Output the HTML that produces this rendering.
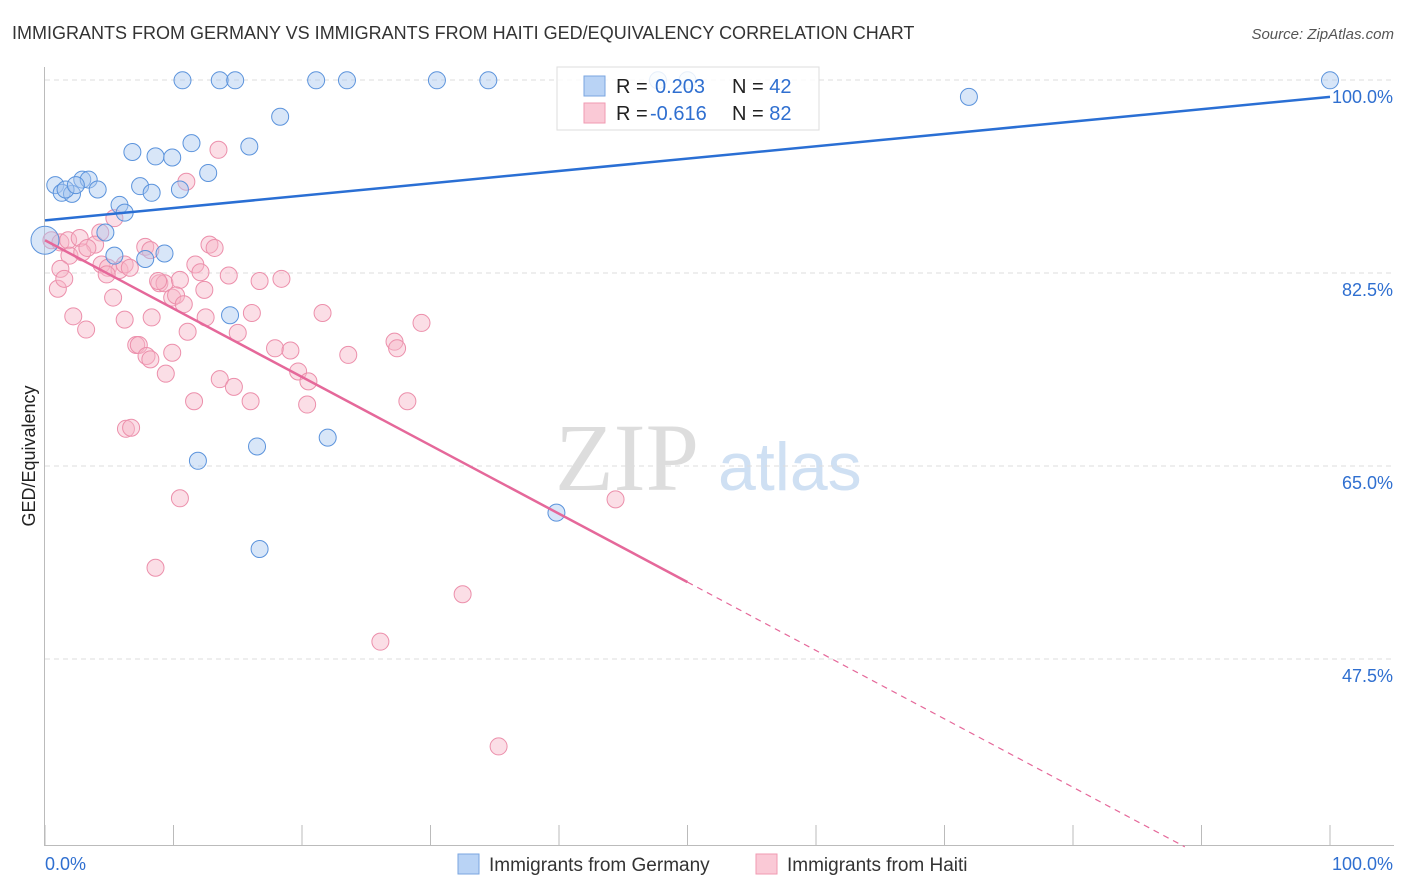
<!DOCTYPE html>
<html><head><meta charset="utf-8"><style>
body{margin:0;background:#fff;font-family:"Liberation Sans",sans-serif;}
svg{display:block}
</style></head><body>
<svg width="1406" height="892" xmlns="http://www.w3.org/2000/svg" id="chart">
<text x="12" y="39" font-size="18" fill="#333">IMMIGRANTS FROM GERMANY VS IMMIGRANTS FROM HAITI GED/EQUIVALENCY CORRELATION CHART</text>
<text x="1394" y="39" font-size="15" fill="#555" font-style="italic" text-anchor="end">Source: ZipAtlas.com</text>
<text transform="translate(35,456) rotate(-90)" font-size="18" fill="#222" text-anchor="middle">GED/Equivalency</text>
<text x="555" y="490" font-size="96" fill="#ddd" font-family="Liberation Serif,serif">ZIP</text>
<text x="718" y="490" font-size="68" fill="#cfe0f3">atlas</text>
<g id="grid"></g><g id="pts"></g><g id="lines"></g>
<g>
<rect x="557" y="67" width="262" height="63" fill="#fff" fill-opacity="0.85" stroke="#ddd"/>
<rect x="584" y="76" width="21" height="20" fill="#b9d3f5" stroke="#7aa6e0"/>
<rect x="584" y="103" width="21" height="20" fill="#fac9d6" stroke="#f09ab2"/>
<text x="616" y="93" font-size="20" fill="#222">R = <tspan fill="#2f6fd0" x="655">0.203</tspan><tspan fill="#222" x="732">N = </tspan><tspan fill="#2f6fd0">42</tspan></text>
<text x="616" y="120" font-size="20" fill="#222">R = <tspan fill="#2f6fd0" x="650">-0.616</tspan><tspan fill="#222" x="732">N = </tspan><tspan fill="#2f6fd0">82</tspan></text>
</g>
<g>
<rect x="458" y="854" width="21" height="20" fill="#b9d3f5" stroke="#7aa6e0"/>
<text x="489" y="871" font-size="19" fill="#333">Immigrants from Germany</text>
<rect x="756" y="854" width="21" height="20" fill="#fac9d6" stroke="#f09ab2"/>
<text x="787" y="871" font-size="19" fill="#333">Immigrants from Haiti</text>
</g>
<text x="45" y="870" font-size="18" fill="#2f6fd0">0.0%</text>
<text x="1393" y="870" font-size="18" fill="#2f6fd0" text-anchor="end">100.0%</text>
</svg>
<script>
const yTicks=[100,82.5,65,47.5];
const yTickLabels=["100.0%","82.5%","65.0%","47.5%"];
const germanyX=[10.7,13.6,14.8,21.1,23.5,30.5,34.5,47.7,50,100,
 71.9,18.3,15.9,6.8,8.6,9.9,11.4,12.7,0.8,2.9,
 3.4,1.3,2.1,4.1,7.4,8.3,10.5,5.8,6.2,4.7,
 5.4,7.8,9.3,14.4,0,16.5,11.9,22.0,16.7,39.8,
 1.6,2.4];
const germanyY=[99.7,99.7,99.7,99.7,99.7,99.7,99.7,99.7,99.7,99.7,
 98.2,96.4,93.7,93.2,92.8,92.7,94.0,91.3,90.2,90.7,
 90.7,89.5,89.4,89.8,90.1,89.5,89.8,88.4,87.7,85.9,
 83.8,83.5,84.0,78.4,85.2,66.5,65.2,67.3,57.2,60.5,
 89.8,90.2];
const haitiX=[13.5,11,5.4,4.3,0.5,1.2,1.8,2.7,3.9,1.9,2.9,3.3,4.4,4.9,5.8,6.2,6.6,7.8,8.2,12.8,13.2,11.7,12.1,14.3,16.7,18.4,1.2,1,1.5,4.8,5.3,8.9,9.3,8.8,10.5,9.9,10.2,10.8,12.4,2.2,3.2,6.2,8.3,11.1,12.5,15,16.1,21.6,29.3,7.1,7.3,7.9,8.2,9.9,9.4,13.6,14.7,16,11.6,17.9,19.1,19.7,20.5,20.4,23.6,27.2,27.4,28.2,6.3,6.7,10.5,8.6,44.4,32.5,26.1,35.3];
const haitiY=[93.4,90.5,87.2,85.9,85.2,85,85.2,85.4,84.8,83.8,84.1,84.5,83,82.7,82.5,83,82.7,84.6,84.3,84.8,84.5,83,82.3,82,81.5,81.7,82.6,80.8,81.7,82.1,80,81.3,81.3,81.5,81.6,80,80.2,79.4,80.7,78.3,77.1,78,78.2,76.9,78.2,76.8,78.6,78.6,77.7,75.7,75.7,74.7,74.4,75,73.1,72.6,71.9,70.6,70.6,75.4,75.2,73.3,72.4,70.3,74.8,76,75.4,70.6,68.1,68.2,61.8,55.5,61.7,53.1,48.8,39.3];
const X0=45,X1=1330,Y100=77,PXPER=193/17.5;
const sx=v=>X0+(X1-X0)*v/100, sy=v=>Y100+(100-v)*PXPER;
const NS="http://www.w3.org/2000/svg";
function mk(tag,attrs,parent){const e=document.createElementNS(NS,tag);for(const k in attrs)e.setAttribute(k,attrs[k]);parent.appendChild(e);return e;}
const grid=document.getElementById('grid');
yTicks.forEach((t,i)=>{
 const l=mk('line',{x1:45,x2:1394,y1:sy(t)+3,y2:sy(t)+3,stroke:'#ddd','stroke-dasharray':'5,4'},grid);
 
 
 const tx=mk('text',{x:1393,y:sy(t)+26,'font-size':18,fill:'#2f6fd0','text-anchor':'end'},grid);
 tx.textContent=yTickLabels[i];
 
 
});
mk('line',{x1:44.5,x2:44.5,y1:67,y2:845,stroke:'#bbb'},grid);
mk('line',{x1:44,x2:1394,y1:845.5,y2:845.5,stroke:'#bbb'},grid);
for(let i=0;i<=10;i++){const xx=sx(i*10);mk('line',{x1:xx,x2:xx,y1:825,y2:845,stroke:'#bbb'},grid);}
const pts=document.getElementById('pts');
haitiX.forEach((v,i)=>{const c=mk('circle',{cx:sx(v),cy:sy(haitiY[i]),r:8.5,fill:'#f7b6c8','fill-opacity':0.45,stroke:'#ec8fab','stroke-width':1},pts);
 
 });
germanyX.forEach((v,i)=>{const c=mk('circle',{cx:sx(v),cy:sy(germanyY[i]),r:i==34?14:8.5,fill:'#a8c8f0','fill-opacity':0.45,stroke:'#5b93dc','stroke-width':1},pts);
 
 });
const lines=document.getElementById('lines');
let l1=mk('line',{x1:sx(0),y1:sy(87.0),x2:sx(100),y2:sy(98.2),stroke:'#2a6fd4','stroke-width':2.5},lines);


let l2=mk('line',{x1:sx(0),y1:sy(85.2),x2:sx(50),y2:sy(54.2),stroke:'#e5689a','stroke-width':2.5},lines);


let l3=mk('line',{x1:sx(50),y1:sy(54.2),x2:sx(88.7),y2:sy(30.2),stroke:'#e5689a','stroke-width':1.2,'stroke-dasharray':'6,5'},lines);


</script>
</body></html>
